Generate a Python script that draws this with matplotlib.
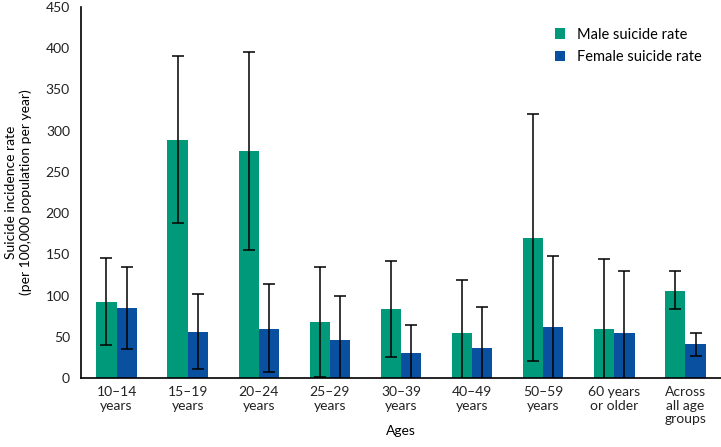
import matplotlib
matplotlib.use("Agg")
import matplotlib.pyplot as plt
import numpy as np

plt.rcParams['font.family'] = ['Lato', 'DejaVu Sans']

categories = ["10–14\nyears", "15–19\nyears", "20–24\nyears", "25–29\nyears",
              "30–39\nyears", "40–49\nyears", "50–59\nyears", "60 years\nor older",
              "Across\nall age\ngroups"]
male = [92, 289, 275, 68, 84, 55, 170, 60, 106]
male_low = [40, 188, 155, 1, 25, -10, 21, -10, 84]
male_high = [145, 391, 396, 135, 142, 119, 320, 144, 130]
female = [85, 56, 60, 46, 30, 36, 62, 54, 41]
female_low = [35, 11, 7, -10, -10, -10, -10, -10, 27]
female_high = [135, 102, 114, 99, 64, 86, 148, 130, 55]

green = "#00997a"
blue = "#0a50a0"

fig = plt.figure(figsize=(7.21, 4.47), dpi=100)
ax = fig.add_axes([81/721, 1-378/447, 640/721, 371/447])

x = np.arange(len(categories))
w = 0.285
m = np.array(male); f = np.array(female)
ax.bar(x - w/2, m, w, color=green, label="Male suicide rate", zorder=2)
ax.bar(x + w/2, f, w, color=blue, label="Female suicide rate", zorder=2)
ax.errorbar(x - w/2, m, yerr=[m - np.array(male_low), np.array(male_high) - m],
            fmt='none', ecolor='black', elinewidth=1.1, capsize=4, capthick=1.1, zorder=3)
ax.errorbar(x + w/2, f, yerr=[f - np.array(female_low), np.array(female_high) - f],
            fmt='none', ecolor='black', elinewidth=1.1, capsize=4, capthick=1.1, zorder=3)

ax.set_xlim(-0.5, 8.5)
ax.set_ylim(0, 450)
ax.set_yticks(np.arange(0, 451, 50))
ax.set_xticks(x)
ax.set_xticklabels(categories, fontsize=10, linespacing=1.15)
ax.tick_params(axis='both', length=0, labelsize=10, colors='#222222')
ax.tick_params(axis='x', pad=6)
ax.tick_params(axis='y', pad=8)
for s in ['top', 'right']:
    ax.spines[s].set_visible(False)
for s in ['left', 'bottom']:
    ax.spines[s].set_linewidth(1.2)
ax.set_xlabel("Ages", fontsize=10, labelpad=0)
ax.set_ylabel("Suicide incidence rate\n(per 100,000 population per year)", fontsize=10,
              labelpad=10, linespacing=1.2)

leg = ax.legend(loc='upper right', bbox_to_anchor=(0.99, 0.98), frameon=False,
                fontsize=10.5, handlelength=0.7, handleheight=0.7, handletextpad=0.8,
                labelspacing=0.6)

fig.savefig("out.png", dpi=100)
